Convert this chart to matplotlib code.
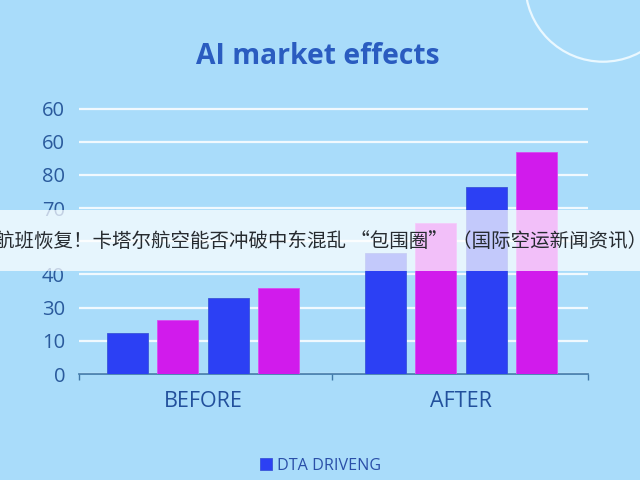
import numpy as np
import matplotlib
matplotlib.use('Agg')
import matplotlib.pyplot as plt
from matplotlib.patches import Circle, Rectangle

# values (height in gridline steps x 10)
groups = ['BEFORE', 'AFTER']
blue_first = [12.3, 36.4]
pink_first = [16.4, 45.5]
blue_second = [23.0, 56.3]
pink_second = [26.0, 66.9]
ytick_pos = [0, 10, 20, 30, 40, 50, 60, 70, 80]
ytick_labels = ['0', '10', '30', '40', '', '70', '80', '60', '60']
legend_label = 'DTA DRIVENG'
title = 'AI market effects'
banner = '航班恢复！卡塔尔航空能否冲破中东混乱 “包围圈” （国际空运新闻资讯）'

BG = '#a9dcfa'
BLUE = '#2c40f4'
PINK = '#d11bec'
TEXT = '#2a5a9c'

plt.rcParams['font.family'] = ['Open Sans', 'DejaVu Sans']

fig = plt.figure(figsize=(6.4, 4.8), dpi=100, facecolor=BG)
ax = fig.add_axes([79 / 640, 106 / 480, 509 / 640, 282 / 480], facecolor='none')

x = np.arange(len(groups))
w = 0.159
ax.bar(x - 0.293, blue_first, w, color=BLUE, edgecolor='#3a55d8', lw=0.6, zorder=3, label=legend_label)
ax.bar(x - 0.098, pink_first, w, color=PINK, edgecolor='#d84cf0', lw=0.6, zorder=3)
ax.bar(x + 0.098, blue_second, w, color=BLUE, edgecolor='#3a55d8', lw=0.6, zorder=3)
ax.bar(x + 0.293, pink_second, w, color=PINK, edgecolor='#d84cf0', lw=0.6, zorder=3)

ax.set_xlim(-0.48, 1.492)
ax.set_ylim(0, 85)
ax.set_yticks(ytick_pos)
ax.set_yticklabels(ytick_labels, fontsize=14.5, color=TEXT)
ax.tick_params(axis='y', length=0, pad=10)
ax.set_xticks(x)
ax.set_xticklabels(groups, fontsize=15.5, color='#22509c')
ax.set_xticks([-0.48, 0.5, 1.492], minor=True)
ax.tick_params(axis='x', which='major', length=0, pad=12)
ax.tick_params(axis='x', which='minor', length=4, width=1, color='#3f78a8')
ax.grid(axis='y', color='white', lw=1.6, alpha=0.85, zorder=1)
for side in ['top', 'left', 'right']:
    ax.spines[side].set_visible(False)
ax.spines['bottom'].set_color('#3f78a8')
ax.spines['bottom'].set_linewidth(1.2)

leg = ax.legend(loc='upper center', bbox_to_anchor=(0.475, -0.245), frameon=False,
                handlelength=0.75, handleheight=0.7, handletextpad=0.3,
                labelcolor='#2a4fa8', prop={'size': 11.6})

# overlay in pixel coordinates for the decoration and the caption band
over = fig.add_axes([0, 0, 1, 1], facecolor='none', zorder=5)
over.set_xlim(0, 640)
over.set_ylim(480, 0)
over.axis('off')
over.add_patch(Circle((603, -16), 77.7, fill=False, ec='#eaf8ff', lw=1.6))
over.add_patch(Rectangle((0, 210), 640, 61, fc='white', ec='none', alpha=0.72))
over.text(318, 57, title, ha='center', va='center', fontsize=20.3,
          fontweight='bold', color='#2a5cc0')
over.text(647, 241, banner, ha='right', va='center', fontsize=14, color='#262b30',
          family=['Noto Sans CJK SC', 'DejaVu Sans'])

fig.savefig('out.png', dpi=100, facecolor=BG)
